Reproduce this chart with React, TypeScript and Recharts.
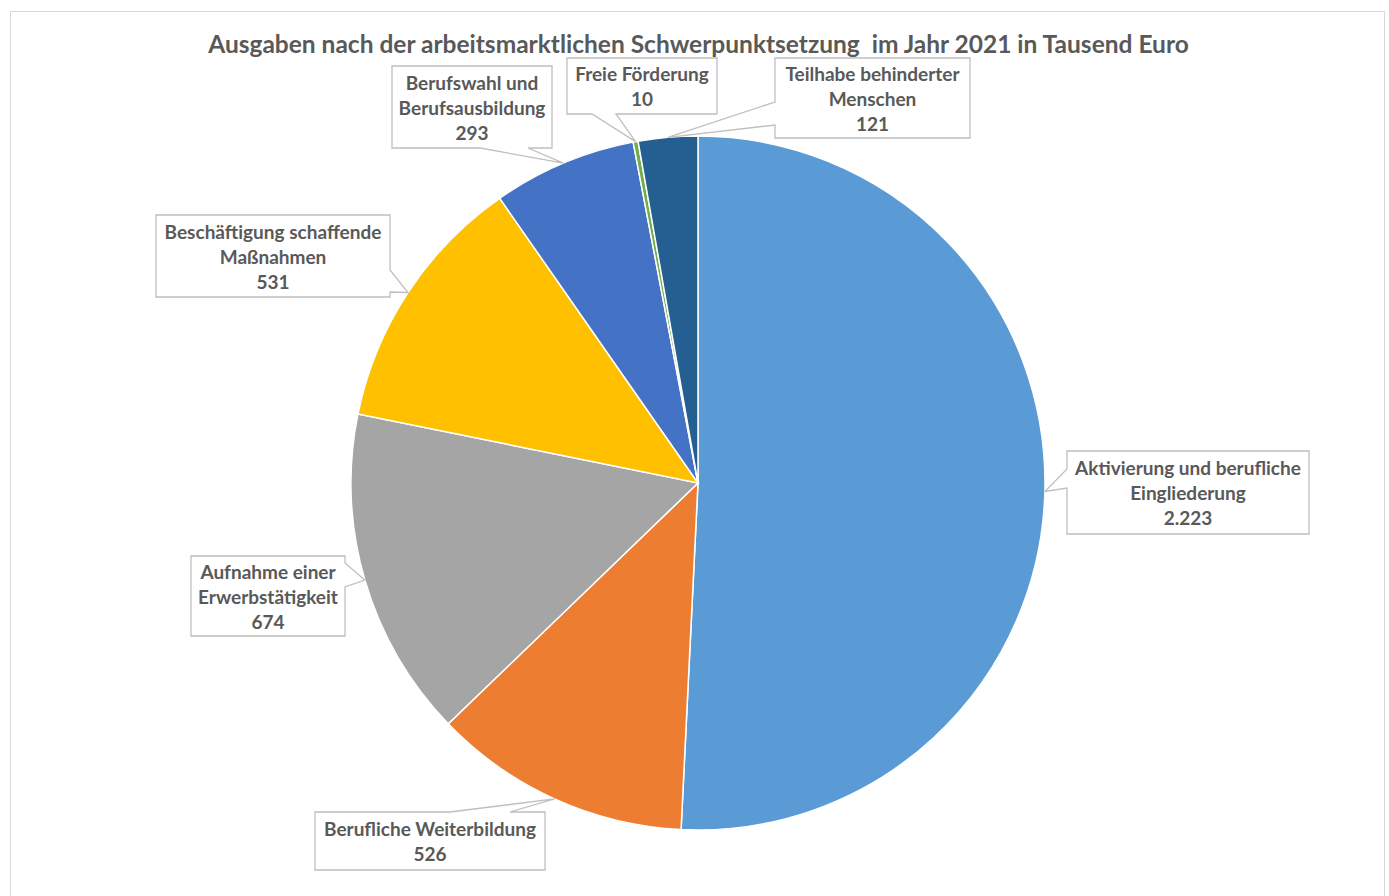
import { PieChart, Pie, Cell } from "recharts";

// Ausgaben nach Schwerpunkt 2021 (Tausend Euro), im Uhrzeigersinn ab 12 Uhr
const categories = [
  "Aktivierung und berufliche Eingliederung",
  "Berufliche Weiterbildung",
  "Aufnahme einer Erwerbstätigkeit",
  "Beschäftigung schaffende Maßnahmen",
  "Berufswahl und Berufsausbildung",
  "Freie Förderung",
  "Teilhabe behinderter Menschen",
];
const values = [2223, 526, 674, 531, 293, 10, 121];
const labelLines = [
  ["Aktivierung und berufliche", "Eingliederung"],
  ["Berufliche Weiterbildung"],
  ["Aufnahme einer", "Erwerbstätigkeit"],
  ["Beschäftigung schaffende", "Maßnahmen"],
  ["Berufswahl und", "Berufsausbildung"],
  ["Freie Förderung"],
  ["Teilhabe behinderter", "Menschen"],
];
const colors = ["#5B9BD5", "#ED7D31", "#A5A5A5", "#FFC000", "#4472C4", "#70AD47", "#255E91"];

const data = categories.map((name, i) => ({ name, value: values[i] }));

// Callout boxes: [x0, y0, x1, y1], side of the pointer, pointer base along that side
type Side = "left" | "right" | "top" | "bottom";
const boxes: { r: [number, number, number, number]; side: Side; base: [number, number] }[] = [
  { r: [1067, 451, 1309, 534], side: "left", base: [469, 488] },
  { r: [315, 812, 545, 870], side: "top", base: [450, 510] },
  { r: [191, 556, 345, 636], side: "right", base: [563, 587] },
  { r: [156, 215, 390, 297], side: "right", base: [270, 292] },
  { r: [392, 66, 552, 148], side: "bottom", base: [480, 528] },
  { r: [567, 58, 717, 114], side: "bottom", base: [592, 616] },
  { r: [775, 58, 970, 138], side: "left", base: [102, 125] },
];

const FONT = "Lato, 'Open Sans', sans-serif";
const TEXT = "#595959";
const RAD = Math.PI / 180;

const fmt = (v: number) => String(v).replace(/\B(?=(\d{3})+(?!\d))/g, ".");

const calloutPath = (
  r: [number, number, number, number],
  side: Side,
  base: [number, number],
  tx: number,
  ty: number
) => {
  const [x0, y0, x1, y1] = r;
  const [b1, b2] = base;
  const pts: [number, number][] = [[x0, y0]];
  if (side === "top") pts.push([b1, y0], [tx, ty], [b2, y0]);
  pts.push([x1, y0]);
  if (side === "right") pts.push([x1, b1], [tx, ty], [x1, b2]);
  pts.push([x1, y1]);
  if (side === "bottom") pts.push([b2, y1], [tx, ty], [b1, y1]);
  pts.push([x0, y1]);
  if (side === "left") pts.push([x0, b2], [tx, ty], [x0, b1]);
  return "M" + pts.map((p) => p.join(",")).join("L") + "Z";
};

const renderLabel = (props: any) => {
  const { cx, cy, midAngle, outerRadius, index } = props;
  const tx = cx + outerRadius * Math.cos(-midAngle * RAD);
  const ty = cy + outerRadius * Math.sin(-midAngle * RAD);
  const b = boxes[index];
  const [x0, y0, x1, y1] = b.r;
  const lines = [...labelLines[index], fmt(values[index])];
  const mx = (x0 + x1) / 2;
  const my = (y0 + y1) / 2;
  const lh = 25;
  return (
    <g key={`lbl-${index}`}>
      <path d={calloutPath(b.r, b.side, b.base, tx, ty)} fill="#fff" stroke="#BFBFBF" strokeWidth={1.3} />
      <text
        x={mx}
        textAnchor="middle"
        fontFamily={FONT}
        fontWeight={700}
        fontSize={19}
        fill={TEXT}
      >
        {lines.map((l, i) => (
          <tspan key={i} x={mx} y={my + (i - (lines.length - 1) / 2) * lh} dominantBaseline="central">
            {l}
          </tspan>
        ))}
      </text>
    </g>
  );
};

export default function App() {
  return (
    <div style={{ position: "absolute", left: 0, top: 0, width: 1389, height: 896, background: "#fff", overflow: "hidden" }}>
      <div
        style={{
          position: "absolute",
          left: 10,
          top: 11,
          width: 1375,
          height: 900,
          border: "1.5px solid #D9D9D9",
          boxSizing: "border-box",
        }}
      />
      <div
        style={{
          position: "absolute",
          left: 0,
          top: 28,
          width: 1397,
          textAlign: "center",
          fontFamily: FONT,
          fontWeight: 700,
          fontSize: 24.5,
          lineHeight: "32px",
          color: TEXT,
          whiteSpace: "pre",
        }}
      >
        {"Ausgaben nach der arbeitsmarktlichen Schwerpunktsetzung  im Jahr 2021 in Tausend Euro"}
      </div>
      <div style={{ position: "absolute", left: 0, top: 0 }}>
        <PieChart width={1389} height={896} margin={{ top: 0, right: 0, bottom: 0, left: 0 }}>
          <Pie
            data={data}
            dataKey="value"
            nameKey="name"
            cx={698}
            cy={483}
            outerRadius={347}
            startAngle={90}
            endAngle={-270}
            stroke="#fff"
            strokeWidth={1.5}
            label={renderLabel}
            labelLine={false}
            isAnimationActive={false}
          >
            {data.map((d, i) => (
              <Cell key={d.name} fill={colors[i]} />
            ))}
          </Pie>
        </PieChart>
      </div>
    </div>
  );
}
